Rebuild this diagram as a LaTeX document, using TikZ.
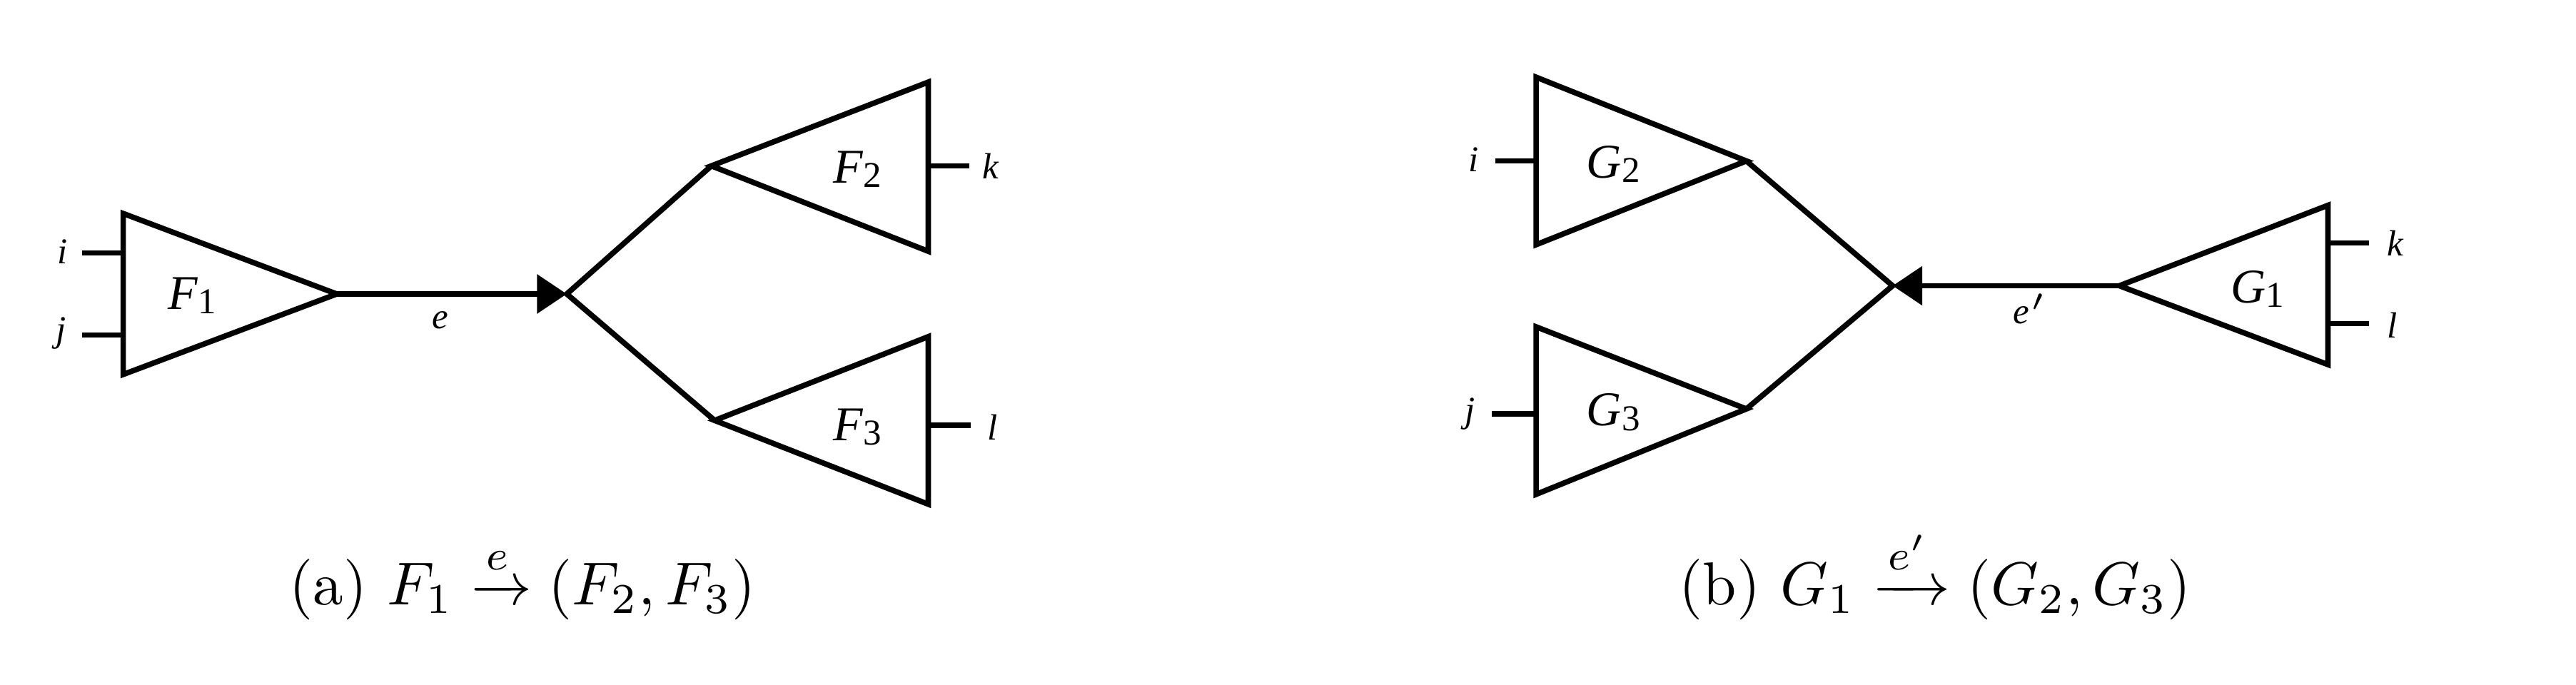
\documentclass[tikz,border=0pt]{standalone}
\usepackage{amsmath}
\usepackage{fontspec}
\newfontfamily\tnr{Liberation Serif}
\usetikzlibrary{arrows.meta}
\newcommand\lblsub[2]{#1\raisebox{-0.09em}{\upshape\fontsize{6}{7}\selectfont #2}}
\begin{document}
\begin{tikzpicture}[x=0.2708pt,y=-0.2708pt, line width=0.9pt, line join=miter,
  tri/.style={draw, line width=0.9pt},
  lab/.style={font=\tnr\itshape\fontsize{6}{7}\selectfont, inner sep=0pt},
  big/.style={font=\tnr\itshape\fontsize{8}{9}\selectfont, inner sep=0pt},
  captext/.style={font=\fontsize{10}{12}\selectfont, inner sep=0pt, anchor=base},
  arr/.style={-{Triangle[length=4.9pt,width=6.3pt]}}
]
\useasboundingbox (0,0) rectangle (1568,417);

% ---------- (a) ----------
\coordinate (F1t) at (75,130); \coordinate (F1b) at (75,228); \coordinate (F1a) at (205,179);
\draw[tri] (F1t) -- (F1a) -- (F1b) -- cycle;
\coordinate (Ja) at (345,179);
\coordinate (F2a) at (433,101); \coordinate (F2t) at (565,50); \coordinate (F2b) at (565,153);
\draw[tri] (F2a) -- (F2t) -- (F2b) -- cycle;
\coordinate (F3a) at (435,256); \coordinate (F3t) at (565,205); \coordinate (F3b) at (565,307);
\draw[tri] (F3a) -- (F3t) -- (F3b) -- cycle;
\draw[arr] (F1a) -- (Ja);
\draw (F2a) -- (Ja) -- (F3a);
% stubs
\coordinate (si) at (75,154); \coordinate (sj) at (75,204);
\node[lab] (li) at (38,153) {i};
\node[lab] (lj) at (37,203) {j};
\draw (si) -- ++(-25,0);
\draw (sj) -- ++(-25,0);
\coordinate (sk) at (565,101); \coordinate (sl) at (565,259);
\draw (sk) -- ++(25,0);
\draw (sl) -- ++(26,0);
\node[lab] (lk) at (603,101) {k};
\node[lab] (ll) at (604,260) {l};
\node[big] (nF1) at (117,180) {\lblsub{F}{1}};
\node[big] (nF2) at (522,103) {\lblsub{F}{2}};
\node[big] (nF3) at (522,260) {\lblsub{F}{3}};
\node[lab] (le) at (268,195) {e};
\node[captext] (capa) at (318,368) {(a) $F_1 \xrightarrow{e} (F_2,F_3)$};

% ---------- (b) ----------
\coordinate (G2t) at (935,47); \coordinate (G2b) at (935,149); \coordinate (G2a) at (1063,98);
\draw[tri] (G2t) -- (G2a) -- (G2b) -- cycle;
\coordinate (G3t) at (935,199); \coordinate (G3b) at (935,301); \coordinate (G3a) at (1063,249);
\draw[tri] (G3t) -- (G3a) -- (G3b) -- cycle;
\coordinate (Jb) at (1152,174);
\coordinate (G1a) at (1290,174); \coordinate (G1t) at (1417,125); \coordinate (G1b) at (1417,222);
\draw[tri] (G1a) -- (G1t) -- (G1b) -- cycle;
\draw[arr] (G1a) -- (Jb);
\draw (G2a) -- (Jb) -- (G3a);
\coordinate (gi) at (935,98); \coordinate (gj) at (935,252);
\draw (gi) -- ++(-25,0);
\draw (gj) -- ++(-27,0);
\node[lab] (mi) at (897,97) {i};
\node[lab] (mj) at (895,252) {j};
\coordinate (gk) at (1417,148); \coordinate (gl) at (1417,197);
\draw (gk) -- ++(25,0);
\draw (gl) -- ++(25,0);
\node[lab] (mk) at (1458,148) {k};
\node[lab] (ml) at (1456,198) {l};
\node[big] (nG1) at (1374,176) {\lblsub{G}{1}};
\node[big] (nG2) at (982,100) {\lblsub{G}{2}};
\node[big] (nG3) at (982,251) {\lblsub{G}{3}};
\node[lab] (le2) at (1235,188) {e\kern0.05em\raisebox{0.35em}{\upshape\fontsize{5}{6}\selectfont$\prime$}};
\node[captext] (capb) at (1178,368) {(b) $G_1 \xrightarrow{e'} (G_2,G_3)$};
\end{tikzpicture}
\end{document}
